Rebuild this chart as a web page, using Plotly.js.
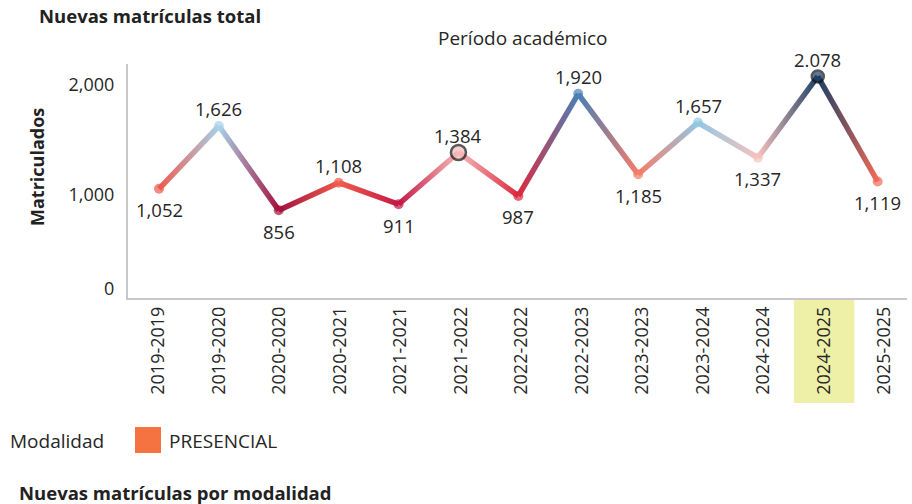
<!DOCTYPE html>
<html>
<head>
<meta charset="utf-8">
<script src="https://cdn.plot.ly/plotly-3.0.1.min.js"></script>
<style>
  html, body { margin: 0; padding: 0; background: #fff; }
  #chart { width: 912px; height: 504px; }
</style>
</head>
<body>
<div id="chart"></div>
<script>
// ---- Data ----
const periods = ['2019-2019','2019-2020','2020-2020','2020-2021','2021-2021','2021-2022',
                 '2022-2022','2022-2023','2023-2023','2023-2024','2024-2024','2024-2025','2025-2025'];
const matriculados = [1052, 1626, 856, 1108, 911, 1384, 987, 1920, 1185, 1657, 1337, 2078, 1119];
const valueLabels = ['1,052','1,626','856','1,108','911','1,384','987','1,920','1,185','1,657','1,337','2.078','1,119'];
const yTickVals = [1000, 2000];
const yZeroLabel = '0';
const highlightedPeriod = '2024-2025';
const legendTitle = 'Modalidad';
const legendLabel = 'PRESENCIAL';

// ---- Styles ----
const pointColors = ['#f05a4e','#a8d1e8','#a3123f','#ef5b4c','#c41a45','#f5b8b8','#dd2a40',
                     '#4a80b5','#f47c68','#94c7e3','#f6c2bd','#1c3f66','#f26a55'];
const ringedPoints = [5, 11];
const FONT = 'Open Sans, sans-serif';
const TXT = '#262626';

const W = 912, H = 504;
const M = {l: 128, r: 5, t: 64, b: 206};
const pw = W - M.l - M.r, ph = H - M.t - M.b;
const px = v => (v - M.l) / pw;
const py = v => (H - M.b - v) / ph;

const xIdx = periods.map((_, i) => i);

function mix(a, b) {
  const pa = [1,3,5].map(k => parseInt(a.substr(k,2),16));
  const pb = [1,3,5].map(k => parseInt(b.substr(k,2),16));
  return 'rgb(' + pa.map((v,i)=>Math.round((v+pb[i])/2)).join(',') + ')';
}

const traces = [];
for (let i = 0; i < matriculados.length - 1; i++) {
  traces.push({
    type: 'scatter', mode: 'lines',
    x: [xIdx[i], xIdx[i+1]], y: [matriculados[i], matriculados[i+1]],
    line: {color: mix(pointColors[i], pointColors[i+1]), width: 5.5},
    hoverinfo: 'skip', showlegend: false
  });
}
traces.push({
  type: 'scatter', mode: 'markers',
  x: xIdx, y: matriculados,
  marker: {
    color: pointColors,
    size: xIdx.map(i => i === 5 ? 15 : (i === 11 ? 12 : 10)),
    line: {color: '#111', width: xIdx.map(i => ringedPoints.includes(i) ? 2.5 : 0)}
  },
  showlegend: false, hoverinfo: 'x+y'
});
// label axis (category labels sit on a slightly wider spacing in the reference)
traces.push({
  type: 'scatter', mode: 'markers', xaxis: 'x2', yaxis: 'y',
  x: xIdx, y: matriculados, marker: {opacity: 0, size: 1},
  showlegend: false, hoverinfo: 'skip'
});

const annotations = [];
matriculados.forEach((v, i) => {
  const above = i === 0 ? v > matriculados[1] : v > matriculados[i-1];
  annotations.push({
    xref: 'x', yref: 'y', x: xIdx[i], y: v, text: valueLabels[i], showarrow: false,
    yshift: above ? 17 : -21, font: {family: FONT, size: 18.5, color: TXT}
  });
});
annotations.push(
  {xref:'paper', yref:'paper', x: px(116), y: py(288), xanchor:'right', yanchor:'middle', showarrow:false,
   text: yZeroLabel, font:{family:FONT, size:18, color:TXT}},
  {xref:'paper', yref:'paper', x: px(37), y: py(15), xanchor:'left', yanchor:'middle', showarrow:false,
   text:'<b>Nuevas matrículas total</b>', font:{family:FONT, size:18.5, color:'#222'}},
  {xref:'paper', yref:'paper', x: px(523), y: py(38), xanchor:'center', yanchor:'middle', showarrow:false,
   text:'Período académico', font:{family:FONT, size:19, color:TXT}},
  {xref:'paper', yref:'paper', x: px(37), y: py(167), xanchor:'center', yanchor:'middle', showarrow:false,
   textangle:-90, text:'<b>Matriculados</b>', font:{family:FONT, size:18, color:'#222'}},
  {xref:'paper', yref:'paper', x: px(8), y: py(441), xanchor:'left', yanchor:'middle', showarrow:false,
   text: legendTitle, font:{family:FONT, size:19, color:TXT}},
  {xref:'paper', yref:'paper', x: px(167), y: py(441), xanchor:'left', yanchor:'middle', showarrow:false,
   text: legendLabel, font:{family:FONT, size:19, color:TXT}},
  {xref:'paper', yref:'paper', x: px(17), y: py(492), xanchor:'left', yanchor:'middle', showarrow:false,
   text:'<b>Nuevas matrículas por modalidad</b>', font:{family:FONT, size:18.5, color:'#222'}}
);

const hi = periods.indexOf(highlightedPeriod);
const shapes = [
  {type:'rect', xref:'x2', yref:'paper', x0: hi - 0.5, x1: hi + 0.5, y0: py(403), y1: py(298),
   fillcolor:'#eef0a8', line:{width:0}, layer:'below'},
  {type:'rect', xref:'paper', yref:'paper', x0: px(135), x1: px(161), y0: py(453), y1: py(427),
   fillcolor:'#f47340', line:{width:0}}
];

const axisCommon = {
  showgrid: false, zeroline: false, fixedrange: true, ticks: ''
};

const layout = {
  width: W, height: H, margin: M,
  paper_bgcolor: '#fff', plot_bgcolor: 'rgba(0,0,0,0)',
  showlegend: false,
  font: {family: FONT, color: TXT},
  xaxis: Object.assign({}, axisCommon, {
    range: [-0.518, 12.49], tickvals: xIdx, showticklabels: false,
    showline: true, linecolor: '#c8c8c8', linewidth: 2
  }),
  xaxis2: Object.assign({}, axisCommon, {
    overlaying: 'x', anchor: 'y', side: 'bottom',
    range: [-0.504, 12.37], tickvals: xIdx, ticktext: periods, tickangle: -90,
    showline: false, ticklabelstandoff: 4, tickfont: {family: FONT, size: 18, color: TXT}
  }),
  yaxis: Object.assign({}, axisCommon, {
    range: [55, 2192], tickvals: yTickVals, tickformat: ',',
    showline: true, linecolor: '#c8c8c8', linewidth: 2,
    ticklabelstandoff: 8, tickfont: {family: FONT, size: 18, color: TXT}
  }),
  annotations, shapes
};

Plotly.newPlot('chart', traces, layout, {displayModeBar: false, staticPlot: true}).then(gd => {
  const svg = gd.querySelector('.main-svg');
  const defs = svg.querySelector('defs');
  const NS = 'http://www.w3.org/2000/svg';
  const lineTraces = gd.querySelectorAll('.subplot.xy .scatterlayer .trace');
  for (let i = 0; i < matriculados.length - 1; i++) {
    const g = document.createElementNS(NS, 'linearGradient');
    g.setAttribute('id', 'segGrad' + i);
    g.setAttribute('x1', '0'); g.setAttribute('y1', '0');
    g.setAttribute('x2', '1'); g.setAttribute('y2', '0');
    [[0, pointColors[i]], [1, pointColors[i+1]]].forEach(([o, c]) => {
      const s = document.createElementNS(NS, 'stop');
      s.setAttribute('offset', o); s.setAttribute('stop-color', c);
      g.appendChild(s);
    });
    defs.appendChild(g);
    const path = lineTraces[i] && lineTraces[i].querySelector('path.js-line');
    if (path) path.style.stroke = 'url(#segGrad' + i + ')';
  }
});
</script>
</body>
</html>
